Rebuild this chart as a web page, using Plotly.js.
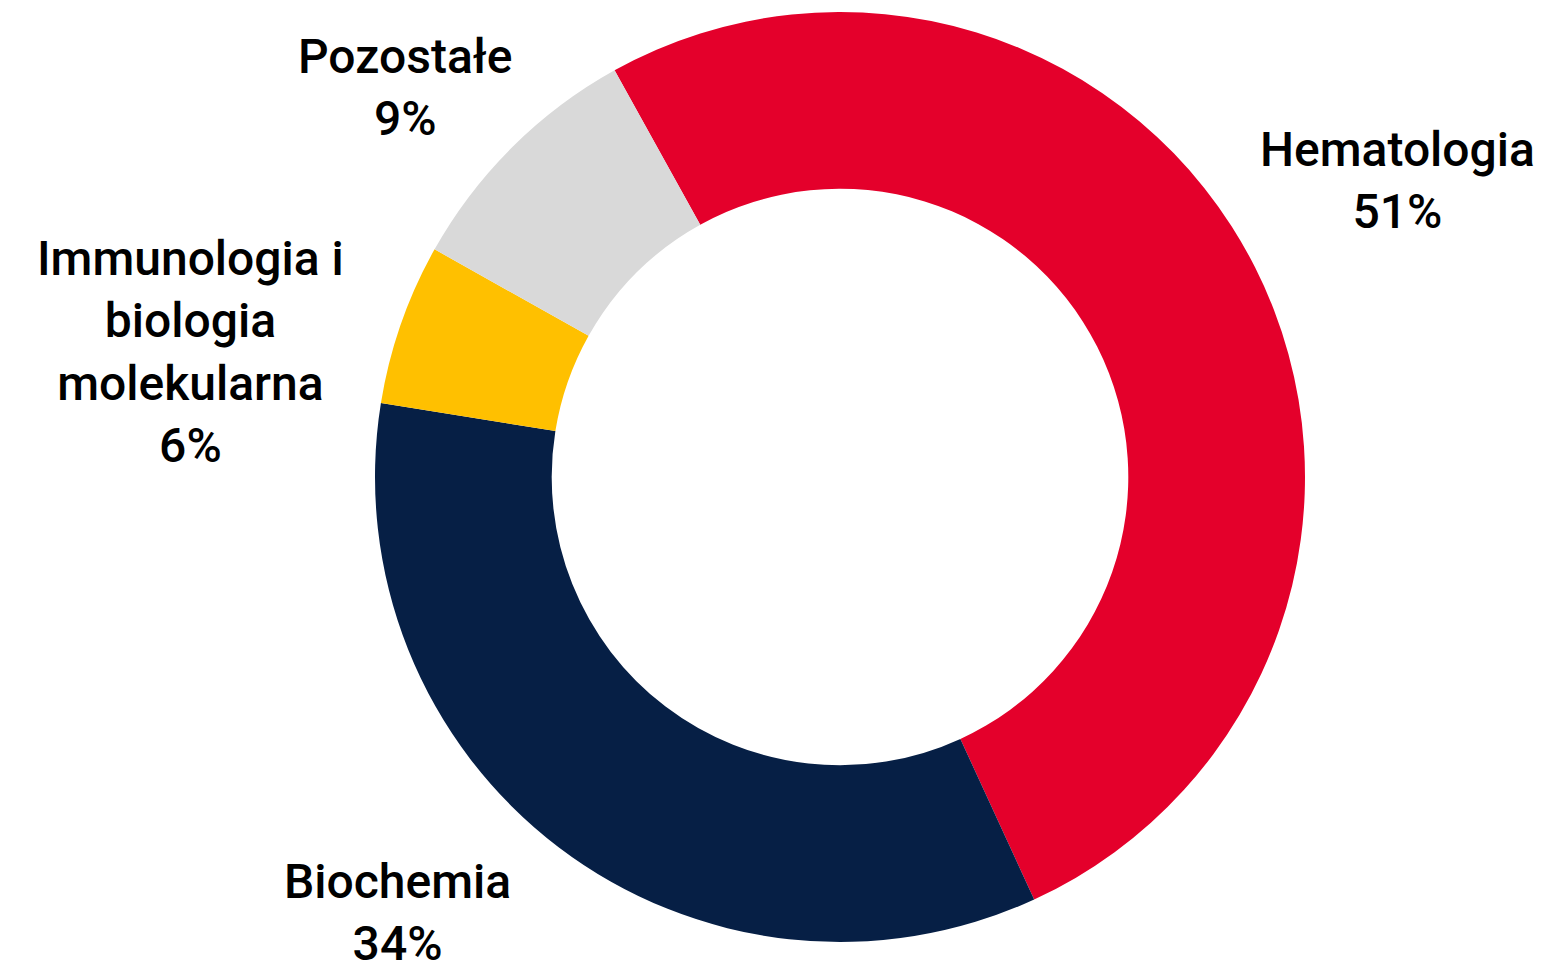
<!DOCTYPE html>
<html>
<head>
<meta charset="utf-8">
<script src="https://cdn.plot.ly/plotly-3.0.1.min.js"></script>
<style>html,body{margin:0;padding:0;background:#fff;}#chart{width:1560px;height:969px;}</style>
</head>
<body>
<div id="chart"></div>
<script>
const categories = ["Hematologia", "Biochemia", "Immunologia i<br>biologia<br>molekularna", "Pozostałe"];
const values = [51.2, 34.4, 5.6, 8.8];
const percentLabels = ["51%", "34%", "6%", "9%"];
const colors = ["#E4002B", "#061F45", "#FFC000", "#D9D9D9"];
const labelX = [1397, 397, 190, 405];
const labelY = [180, 912, 352, 88];

const W = 1560, H = 969;
const annotations = categories.map((c, i) => ({
  text: c + "<br>" + percentLabels[i],
  x: labelX[i] / W, y: 1 - labelY[i] / H,
  xref: "paper", yref: "paper",
  xanchor: "center", yanchor: "middle",
  showarrow: false, align: "center",
  font: {family: "Roboto, sans-serif", size: 48, color: "#000", weight: 500}
}));

const data = [{
  type: "pie",
  labels: categories,
  values: values,
  hole: 0.62,
  sort: false,
  direction: "clockwise",
  rotation: -29,
  marker: {colors: colors, line: {width: 0}},
  textinfo: "none",
  hoverinfo: "label+percent",
  domain: {x: [(840 - 465) / W, (840 + 465) / W], y: [1 - 942 / H, 1 - 12 / H]}
}];

const layout = {
  width: W, height: H,
  margin: {l: 0, r: 0, t: 0, b: 0},
  paper_bgcolor: "#fff",
  showlegend: false,
  annotations: annotations
};
Plotly.newPlot("chart", data, layout, {displayModeBar: false, staticPlot: true});
</script>
</body>
</html>
